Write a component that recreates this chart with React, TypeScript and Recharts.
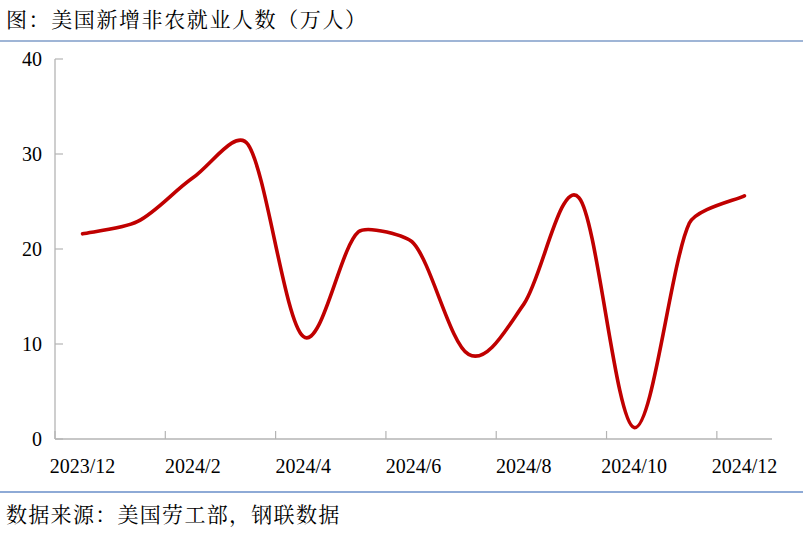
import React from 'react';
import { LineChart, Line, XAxis, YAxis } from 'recharts';

const months = ['2023/12', '2024/1', '2024/2', '2024/3', '2024/4', '2024/5', '2024/6', '2024/7', '2024/8', '2024/9', '2024/10', '2024/11', '2024/12'];
const payrolls = [21.6, 22.9, 27.5, 31.0, 10.8, 21.8, 20.6, 8.9, 14.2, 25.4, 1.2, 22.7, 25.6];
const yTicks = [0, 10, 20, 30, 40];

const data = months.map((m, i) => ({ month: m, value: payrolls[i] }));

const W = 803;
const H = 534;
const LEFT = 55;
const RIGHT = 31;
const TOP = 59;
const BOTTOM = 95;
const X_AXIS_H = 30;
const Y_MAX = 40;
const bandPx = (W - LEFT - RIGHT) / months.length;
const halfBand = bandPx / 2;
const unitPx = (H - TOP - BOTTOM) / Y_MAX;

const AXIS_COLOR = '#b4b4b4';
const FONT = '"Liberation Serif", "Noto Serif CJK SC", "Noto Sans CJK SC", serif';

// Excel-style smoothed line: Bezier segments, tension 1/6, handles capped at half the segment
// (distances measured in data units: categories horizontally, values vertically)
const smoothCurve = (context: any) => {
  let xs: number[] = [];
  let ys: number[] = [];
  const dist = (i: number, j: number) => {
    const dx = (xs[j] - xs[i]) / bandPx;
    const dy = (ys[j] - ys[i]) / unitPx;
    return Math.sqrt(dx * dx + dy * dy);
  };
  return {
    areaStart() {},
    areaEnd() {},
    lineStart() {
      xs = [];
      ys = [];
    },
    point(x: number, y: number) {
      xs.push(+x);
      ys.push(+y);
    },
    lineEnd() {
      const n = xs.length;
      if (!n) return;
      context.moveTo(xs[0], ys[0]);
      for (let i = 0; i < n - 1; i++) {
        const a = Math.max(i - 1, 0);
        const b = i;
        const c = i + 1;
        const d = Math.min(i + 2, n - 1);
        const d02 = dist(a, c);
        const d12 = dist(b, c);
        const d13 = dist(b, d);
        let f0 = 1 / 6;
        let f3 = 1 / 6;
        if (!(d02 / 6 < d12 / 2 && d13 / 6 < d12 / 2)) {
          if (d02 / 6 >= d12 / 2 && d02 > 0) f0 = d12 / 2 / d02;
          if (d13 / 6 >= d12 / 2 && d13 > 0) f3 = d12 / 2 / d13;
        }
        const c1x = xs[b] + (xs[c] - xs[a]) * f0;
        const c1y = ys[b] + (ys[c] - ys[a]) * f0;
        const c2x = xs[c] - (xs[d] - xs[b]) * f3;
        const c2y = ys[c] - (ys[d] - ys[b]) * f3;
        context.bezierCurveTo(c1x, c1y, c2x, c2y, xs[c], ys[c]);
      }
    },
  };
};

const XTick = (props: any) => {
  const { x, y, payload } = props;
  return (
    <g>
      <line x1={x - halfBand} y1={y} x2={x - halfBand} y2={y - 8} stroke={AXIS_COLOR} strokeWidth={1.2} />
      <text x={x} y={y + 34} textAnchor="middle" fontSize={20} fontFamily={FONT} fill="#000">
        {payload.value}
      </text>
    </g>
  );
};

const YTick = (props: any) => {
  const { x, y, payload } = props;
  return (
    <g>
      <line x1={x} y1={y} x2={x + 8} y2={y} stroke={AXIS_COLOR} strokeWidth={1.2} />
      <text x={x - 13} y={y} dy="0.35em" textAnchor="end" fontSize={20} fontFamily={FONT} fill="#000">
        {payload.value}
      </text>
    </g>
  );
};

export default function App() {
  return (
    <div style={{ position: 'absolute', left: 0, top: 0, width: W, height: H, background: '#fff', overflow: 'hidden' }}>
      <div
        style={{
          position: 'absolute',
          left: 6,
          top: 7,
          fontSize: 21,
          fontFamily: FONT,
          color: '#000',
          whiteSpace: 'nowrap',
          lineHeight: '26px',
          letterSpacing: 1.6,
        }}
      >
        图：美国新增非农就业人数（万人）
      </div>
      <div style={{ position: 'absolute', left: 0, top: 40, width: W, height: 1.5, background: '#9fb5d6' }} />
      <div style={{ position: 'absolute', left: 0, top: 491, width: W, height: 1.5, background: '#8eaad6' }} />
      <div
        style={{
          position: 'absolute',
          left: 6,
          top: 502,
          fontSize: 21,
          fontFamily: FONT,
          color: '#000',
          whiteSpace: 'nowrap',
          lineHeight: '26px',
          letterSpacing: 1.3,
        }}
      >
        数据来源：美国劳工部，钢联数据
      </div>
      <div style={{ position: 'absolute', left: 0, top: 0 }}>
        <LineChart
          width={W}
          height={H}
          data={data}
          margin={{ top: TOP, right: RIGHT, bottom: BOTTOM - X_AXIS_H, left: 0 }}
        >
          <XAxis
            dataKey="month"
            scale="band"
            height={X_AXIS_H}
            interval={1}
            tickSize={0}
            tickMargin={0}
            tickLine={false}
            axisLine={{ stroke: AXIS_COLOR, strokeWidth: 1.3 }}
            tick={<XTick />}
          />
          <YAxis
            width={LEFT}
            domain={[0, Y_MAX]}
            ticks={yTicks}
            interval={0}
            tickSize={0}
            tickMargin={0}
            tickLine={false}
            axisLine={{ stroke: AXIS_COLOR, strokeWidth: 1.3 }}
            tick={<YTick />}
          />
          <Line
            dataKey="value"
            type={smoothCurve as any}
            stroke="#C00000"
            strokeWidth={3.6}
            dot={false}
            activeDot={false}
            isAnimationActive={false}
            strokeLinecap="round"
          />
        </LineChart>
      </div>
    </div>
  );
}
